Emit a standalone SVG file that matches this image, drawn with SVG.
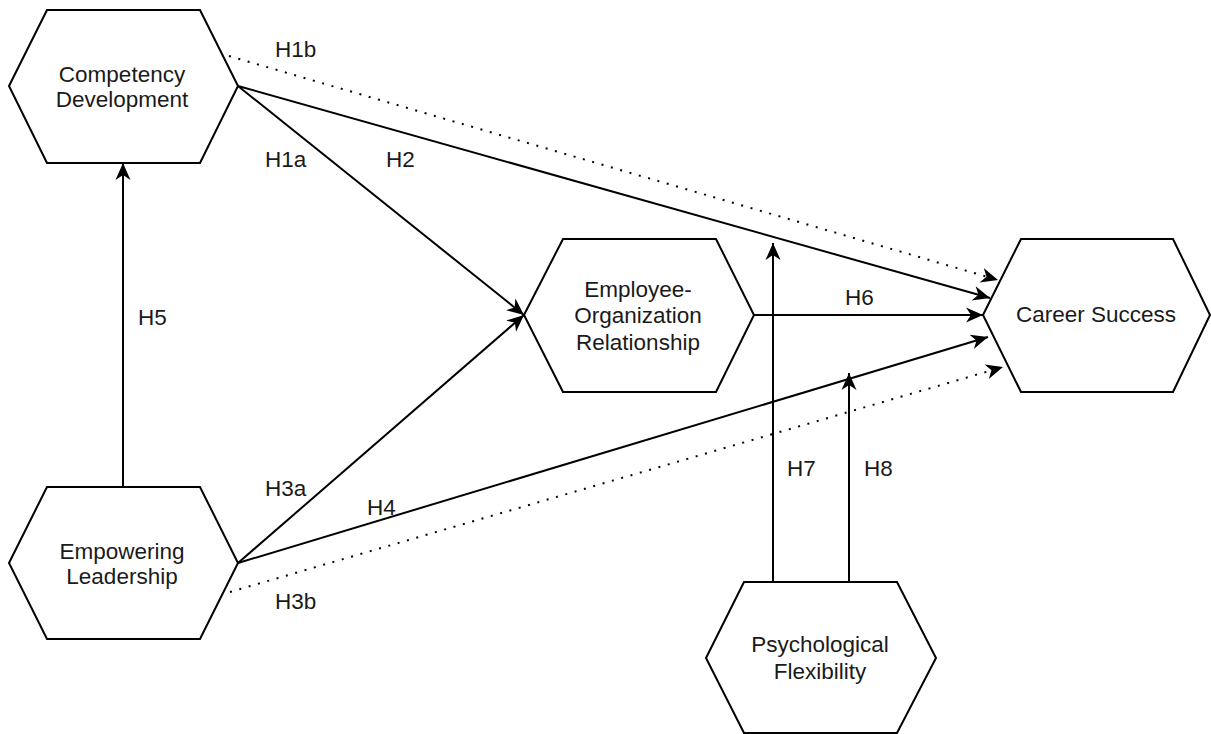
<svg xmlns="http://www.w3.org/2000/svg" width="1211" height="734" viewBox="0 0 1211 734">
<style>
.node{fill:#fff;stroke:#000;stroke-width:2;stroke-linejoin:miter}
.lbl{font-family:"Liberation Sans",Arial,sans-serif;font-size:22.5px;fill:#1a1a1a}
.c{text-anchor:middle}
.edge{fill:none;stroke:#000;stroke-width:2}
.dot{stroke-dasharray:2 7.7}
</style>
<defs>
<marker id="arr" markerUnits="userSpaceOnUse" markerWidth="20" markerHeight="18" viewBox="-18 -9 20 18" refX="0" refY="0" orient="auto">
<path d="M0,0 L-17,-7.5 L-12,0 L-17,7.5 Z" fill="#000"/>
</marker>
</defs>
<rect width="1211" height="734" fill="#fff"/>
<g id="connectors">
<path id="e-h5" class="edge" d="M123,487 L123,163" marker-end="url(#arr)"/>
<path id="e-h1a" class="edge" d="M238,86 L524,315" marker-end="url(#arr)"/>
<path id="e-h3a" class="edge" d="M238,563 L524,315" marker-end="url(#arr)"/>
<path id="e-h2" class="edge" d="M238,86 L990,298" marker-end="url(#arr)"/>
<path id="e-h1b" class="edge dot" d="M229,56 L998,280" marker-end="url(#arr)"/>
<path id="e-h6" class="edge" d="M754,315 L983,315" marker-end="url(#arr)"/>
<path id="e-h4" class="edge" d="M238,563 L988,337" marker-end="url(#arr)"/>
<path id="e-h3b" class="edge dot" d="M230,592 L1003,367" marker-end="url(#arr)"/>
<path id="e-h7" class="edge" d="M773,582 L773,243" marker-end="url(#arr)"/>
<path id="e-h8" class="edge" d="M849,582 L849,373" marker-end="url(#arr)"/>
<text class="lbl" x="275" y="57">H1b</text>
<text class="lbl" x="265" y="167">H1a</text>
<text class="lbl" x="386" y="167">H2</text>
<text class="lbl" x="138" y="325">H5</text>
<text class="lbl" x="845" y="305">H6</text>
<text class="lbl" x="265" y="496">H3a</text>
<text class="lbl" x="367" y="515">H4</text>
<text class="lbl" x="275" y="609">H3b</text>
<text class="lbl" x="787" y="476">H7</text>
<text class="lbl" x="864" y="476">H8</text>
</g>
<g id="competency-development">
<polygon class="node" points="9,86 47,10 200,10 238,86 200,163 47,163"/>
<text class="lbl c" x="122" y="82">Competency</text>
<text class="lbl c" x="122" y="107">Development</text>
</g>
<g id="empowering-leadership">
<polygon class="node" points="9,563 47,487 200,487 238,563 200,639 47,639"/>
<text class="lbl c" x="122" y="559">Empowering</text>
<text class="lbl c" x="122" y="584">Leadership</text>
</g>
<g id="employee-organization-relationship">
<polygon class="node" points="524,315 563,239 716,239 754,315 716,392 563,392"/>
<text class="lbl c" x="638" y="297">Employee-</text>
<text class="lbl c" x="638" y="323">Organization</text>
<text class="lbl c" x="638" y="350">Relationship</text>
</g>
<g id="career-success">
<polygon class="node" points="983,315 1021,239 1173,239 1210,315 1173,392 1021,392"/>
<text class="lbl c" x="1096" y="322">Career Success</text>
</g>
<g id="psychological-flexibility">
<polygon class="node" points="706,658 744,582 897,582 936,658 897,733 744,733"/>
<text class="lbl c" x="820" y="652">Psychological</text>
<text class="lbl c" x="820" y="679">Flexibility</text>
</g>
</svg>
